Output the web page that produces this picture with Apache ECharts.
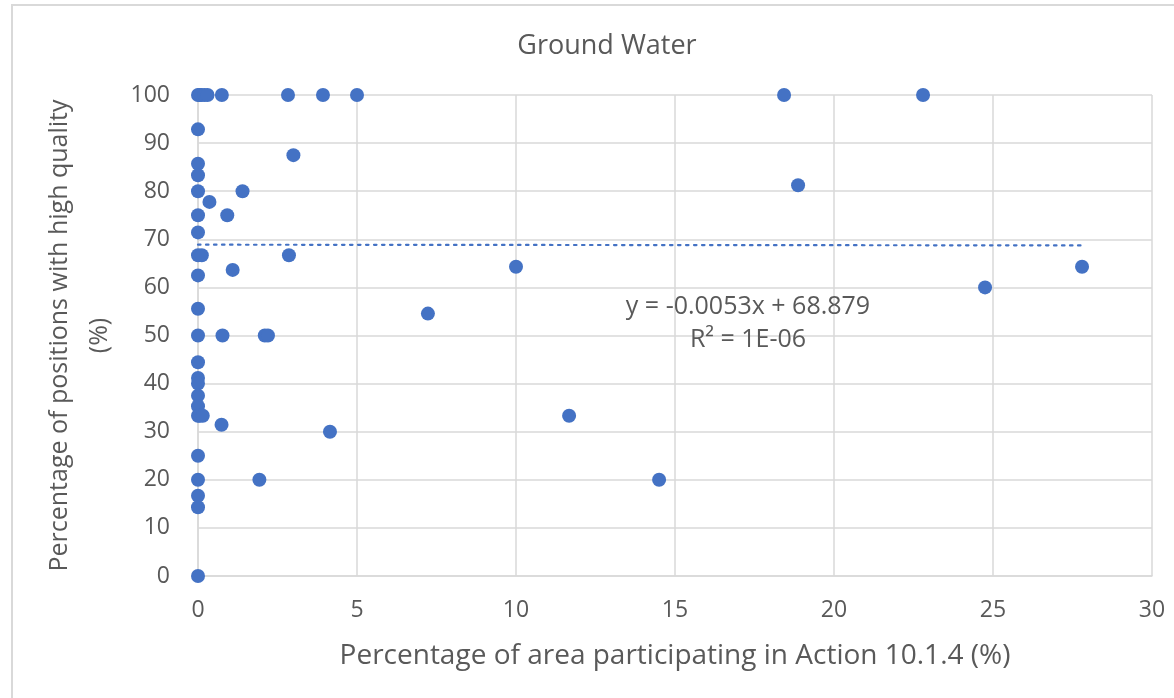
<!DOCTYPE html>
<html>
<head>
<meta charset="utf-8">
<script src="https://cdn.jsdelivr.net/npm/echarts@6/dist/echarts.min.js"></script>
<style>
html,body{margin:0;padding:0;background:#fff;}
#chart{width:1174px;height:698px;}
</style>
</head>
<body>
<div id="chart"></div>
<script>
const titleText = 'Ground Water';
const xAxisName = 'Percentage of area participating in Action 10.1.4 (%)';
const yAxisName = 'Percentage of positions with high quality\n(%)';
const xValues = [0, 0.05, 0.1, 0.2, 0.3, 0.75, 2.83, 3.93, 5.0, 18.43, 22.8,
  0, 3.0, 0, 0, 0, 1.4, 0.36, 0, 0.92, 0,
  0, 0.12, 2.86, 1.09, 0, 0,
  0, 0.77, 2.1, 2.2, 0, 0, 0, 0, 0,
  0, 0.05, 0.15, 0.74, 4.15, 0, 0, 1.93, 0, 0, 0,
  18.87, 10.0, 7.23, 11.67, 14.5, 24.75, 27.8];
const yValues = [100, 100, 100, 100, 100, 100, 100, 100, 100, 100, 100,
  92.86, 87.5, 85.71, 83.33, 80, 80, 77.78, 75, 75, 71.43,
  66.67, 66.67, 66.67, 63.64, 62.5, 55.56,
  50, 50, 50, 50, 44.44, 41.18, 40, 37.5, 35.29,
  33.33, 33.33, 33.33, 31.43, 30, 25, 20, 20, 16.67, 14.29, 0,
  81.25, 64.29, 54.55, 33.33, 20, 60, 64.29];
const trendSlope = -0.0053;
const trendIntercept = 68.879;
const equationLine1 = 'y = -0.0053x + 68.879';
const equationLine2 = 'R² = 1E-06';
const xTicks = {min: 0, max: 30, interval: 5};
const yTicks = {min: 0, max: 100, interval: 10};

const points = xValues.map((x, i) => [x, yValues[i]]);
const xMaxData = Math.max(...xValues);
const trend = [[0, trendIntercept], [xMaxData, trendIntercept + trendSlope * xMaxData]];

const FONT = 'Open Sans';
const TXT = '#595959';
const chart = echarts.init(document.getElementById('chart'));
chart.setOption({
  animation: false,
  backgroundColor: '#fff',
  title: {
    text: titleText,
    left: 602, top: 28, textAlign: 'center',
    textStyle: {fontFamily: FONT, fontSize: 27, fontWeight: 'normal', color: TXT}
  },
  grid: {left: 198, right: 22, top: 95, bottom: 122, containLabel: false},
  xAxis: {
    type: 'value', min: xTicks.min, max: xTicks.max, interval: xTicks.interval,
    name: xAxisName, nameLocation: 'middle', nameGap: 66,
    nameTextStyle: {fontFamily: FONT, fontSize: 28, color: TXT},
    axisLine: {show: true, lineStyle: {color: '#D9D9D9', width: 1.5}},
    axisTick: {show: false},
    axisLabel: {fontFamily: FONT, fontSize: 23, color: TXT, margin: 23},
    splitLine: {show: true, lineStyle: {color: '#D9D9D9', width: 1.5}}
  },
  yAxis: {
    type: 'value', min: yTicks.min, max: yTicks.max, interval: yTicks.interval,
    name: yAxisName, nameLocation: 'middle', nameGap: 76,
    nameTextStyle: {fontFamily: FONT, fontSize: 25, color: TXT, lineHeight: 40},
    axisLine: {show: true, lineStyle: {color: '#D9D9D9', width: 1.5}},
    axisTick: {show: false},
    axisLabel: {fontFamily: FONT, fontSize: 23, color: TXT, margin: 28},
    splitLine: {show: true, lineStyle: {color: '#D9D9D9', width: 1.5}}
  },
  series: [
    {
      type: 'line', data: trend, symbol: 'none', silent: true,
      lineStyle: {color: '#4472C4', width: 2.2, type: [2.5, 5.5], cap: 'round'},
      z: 2
    },
    {
      type: 'scatter', data: points, symbolSize: 14,
      itemStyle: {color: '#4472C4', opacity: 1},
      z: 3
    }
  ],
  graphic: [
    {type: 'rect', shape: {x: 12, y: 5, width: 1300, height: 800}, style: {fill: 'none', stroke: '#D9D9D9', lineWidth: 2}, silent: true, z: -1},
    {type: 'text', x: 748, y: 307, style: {text: equationLine1, fontFamily: FONT, fontSize: 25, fill: TXT, align: 'center', verticalAlign: 'middle'}, z: 10},
    {type: 'text', x: 748, y: 340, style: {text: equationLine2, fontFamily: FONT, fontSize: 25, fill: TXT, align: 'center', verticalAlign: 'middle'}, z: 10}
  ]
});
</script>
</body>
</html>
